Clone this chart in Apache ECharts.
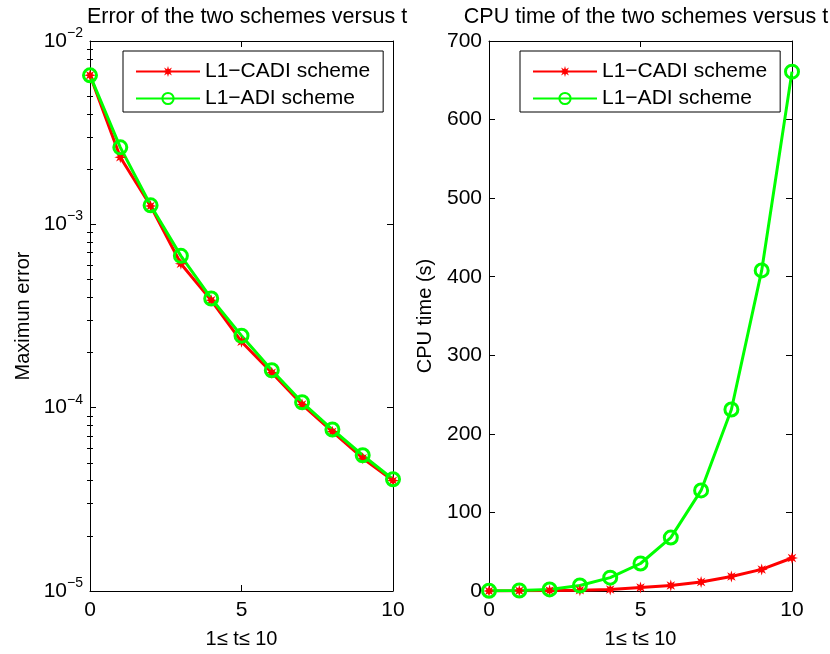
<!DOCTYPE html>
<html lang="en">
<head>
  <meta charset="UTF-8">
  <title>Error and CPU time</title>
  <style>
    html, body { margin: 0; padding: 0; background: #fff; }
    #echarts { width: 830px; height: 654px; }
  </style>
</head>
<body>
  <div id="echarts"></div>
  <script src="https://cdn.jsdelivr.net/npm/echarts@6/dist/echarts.min.js"></script>
  <script>
    // t = 0..10
    const tValues = [0, 1, 2, 3, 4, 5, 6, 7, 8, 9, 10];
    const seriesNames = ['L1\u2212CADI scheme', 'L1\u2212ADI scheme'];
    // maximum error (log scale)
    const errCADI = [6.5e-3, 2.32e-3, 1.26e-3, 6.1e-4, 3.85e-4, 2.29e-4, 1.55e-4, 1.04e-4, 7.4e-5, 5.3e-5, 4.0e-5];
    const errADI = [6.5e-3, 2.63e-3, 1.27e-3, 6.73e-4, 3.94e-4, 2.47e-4, 1.6e-4, 1.07e-4, 7.6e-5, 5.5e-5, 4.07e-5];
    // CPU time in seconds
    const cpuCADI = [0.1, 0.2, 0.5, 1, 2, 4.5, 7, 11.5, 18.5, 27.5, 42];
    const cpuADI = [0.3, 0.6, 2, 7, 17, 35, 68, 128, 231, 408, 661];
    // decades of the log axis
    const logDecades = [-5, -4, -3, -2];

    const font = 'Liberation Sans, Arial, Helvetica, sans-serif';
    const red = '#ff0000';
    const green = '#00ff00';

    // asterisk-like marker
    function starPath(n, inner) {
      let d = '';
      for (let i = 0; i < n * 2; i++) {
        const r = i % 2 === 0 ? 1 : inner;
        const a = Math.PI * i / n - Math.PI / 2;
        d += (i === 0 ? 'M' : 'L') + (r * Math.cos(a)).toFixed(3) + ' ' + (r * Math.sin(a)).toFixed(3) + ' ';
      }
      return 'path://' + d + 'Z';
    }
    const asterisk = starPath(8, 0.45);

    // minor tick positions for log axis, in exponent space
    const minorLog = [];
    for (let i = 0; i < logDecades.length - 1; i++) {
      for (let k = 2; k <= 9; k++) minorLog.push(logDecades[i] + Math.log10(k));
    }

    const pairs = (xs, ys) => xs.map((x, i) => [x, ys[i]]);

    const grids = [
      { left: 90, top: 41, width: 303, height: 553 },
      { left: 489, top: 41, width: 303, height: 553 }
    ];

    const lineAxis = { show: true, onZero: false, lineStyle: { color: '#000', width: 1 } };
    const tickIn = (len) => ({ show: true, inside: true, length: len, lineStyle: { color: '#000', width: 1 } });
    const labelStyle = { color: '#000', fontFamily: font, fontSize: 21 };
    const nameStyle = { color: '#000', fontFamily: font, fontSize: 20 };

    function xAxes(gridIndex) {
      const base = {
        type: 'value', gridIndex, min: 0, max: 10, interval: 5,
        axisLine: lineAxis, axisTick: tickIn(6), splitLine: { show: false }
      };
      return [
        Object.assign({}, base, {
          position: 'bottom',
          axisLabel: Object.assign({ margin: 9 }, labelStyle),
          name: '1\u2264 t\u2264 10', nameLocation: 'middle', nameGap: 38,
          nameTextStyle: nameStyle
        }),
        Object.assign({}, base, { position: 'top', axisLabel: { show: false } })
      ];
    }

    const logLabel = {
      margin: 7,
      formatter: (v) => '{b|10}{s|' + String(Math.round(Math.log10(v))).replace('-', '\u2212') + '}',
      rich: {
        b: { color: '#000', fontFamily: font, fontSize: 21 },
        s: { color: '#000', fontFamily: font, fontSize: 14, padding: [0, 0, 16, 0] }
      }
    };

    const option = {
      animation: false,
      backgroundColor: '#fff',
      title: [
        { text: 'Error of the two schemes versus t', left: 242, top: 1, textAlign: 'center',
          textStyle: { color: '#000', fontFamily: font, fontSize: 21.5, fontWeight: 'normal' } },
        { text: 'CPU time of the two schemes versus t', left: 641, top: 1, textAlign: 'center',
          textStyle: { color: '#000', fontFamily: font, fontSize: 21.5, fontWeight: 'normal' } }
      ],
      legend: [
        { left: 123, top: 51 },
        { left: 520, top: 51 }
      ].map(p => Object.assign({
        data: seriesNames, orient: 'vertical',
        backgroundColor: '#fff', borderColor: '#000', borderWidth: 1,
        padding: [10, 13, 3, 12], itemWidth: 64, itemHeight: 14, itemGap: 6,
        textStyle: { color: '#000', fontFamily: font, fontSize: 21 },
        selectedMode: false
      }, p)),
      grid: grids,
      xAxis: xAxes(0).concat(xAxes(1)),
      yAxis: [
        // left plot: log axis
        { type: 'log', gridIndex: 0, logBase: 10, min: 1e-5, max: 1e-2, interval: 1, position: 'left',
          axisLine: lineAxis, axisTick: tickIn(6), axisLabel: logLabel, splitLine: { show: false },
          name: 'Maximun error', nameLocation: 'middle', nameGap: 57, nameTextStyle: nameStyle },
        { type: 'log', gridIndex: 0, logBase: 10, min: 1e-5, max: 1e-2, interval: 1, position: 'right',
          axisLine: lineAxis, axisTick: tickIn(6), axisLabel: { show: false }, splitLine: { show: false } },
        // minor ticks (exponent space)
        { type: 'value', gridIndex: 0, min: -5, max: -2, position: 'left',
          axisLine: { show: false }, axisTick: Object.assign(tickIn(3), { customValues: minorLog }),
          axisLabel: { show: false }, splitLine: { show: false } },
        { type: 'value', gridIndex: 0, min: -5, max: -2, position: 'right',
          axisLine: { show: false }, axisTick: Object.assign(tickIn(3), { customValues: minorLog }),
          axisLabel: { show: false }, splitLine: { show: false } },
        // right plot: CPU time
        { type: 'value', gridIndex: 1, min: 0, max: 700, interval: 100, position: 'left',
          axisLine: lineAxis, axisTick: tickIn(6), axisLabel: Object.assign({ margin: 7 }, labelStyle),
          splitLine: { show: false },
          name: 'CPU time (s)', nameLocation: 'middle', nameGap: 54, nameTextStyle: nameStyle },
        { type: 'value', gridIndex: 1, min: 0, max: 700, interval: 100, position: 'right',
          axisLine: lineAxis, axisTick: tickIn(6), axisLabel: { show: false }, splitLine: { show: false } }
      ],
      series: [
        { name: seriesNames[0], type: 'line', xAxisIndex: 0, yAxisIndex: 0, data: pairs(tValues, errCADI),
          symbol: asterisk, symbolSize: 12, showAllSymbol: true, color: red,
          lineStyle: { color: red, width: 3 }, itemStyle: { color: red } },
        { name: seriesNames[1], type: 'line', xAxisIndex: 0, yAxisIndex: 0, data: pairs(tValues, errADI),
          symbol: 'circle', symbolSize: 13, showAllSymbol: true, color: green,
          lineStyle: { color: green, width: 3 }, itemStyle: { color: 'rgba(0,0,0,0)', borderColor: green, borderWidth: 3 } },
        { name: seriesNames[0], type: 'line', xAxisIndex: 2, yAxisIndex: 4, data: pairs(tValues, cpuCADI),
          symbol: asterisk, symbolSize: 12, showAllSymbol: true, color: red,
          lineStyle: { color: red, width: 3 }, itemStyle: { color: red } },
        { name: seriesNames[1], type: 'line', xAxisIndex: 2, yAxisIndex: 4, data: pairs(tValues, cpuADI),
          symbol: 'circle', symbolSize: 13, showAllSymbol: true, color: green,
          lineStyle: { color: green, width: 3 }, itemStyle: { color: 'rgba(0,0,0,0)', borderColor: green, borderWidth: 3 } }
      ]
    };

    const chart = echarts.init(document.getElementById('echarts'));
    chart.setOption(option);
  </script>
</body>
</html>
